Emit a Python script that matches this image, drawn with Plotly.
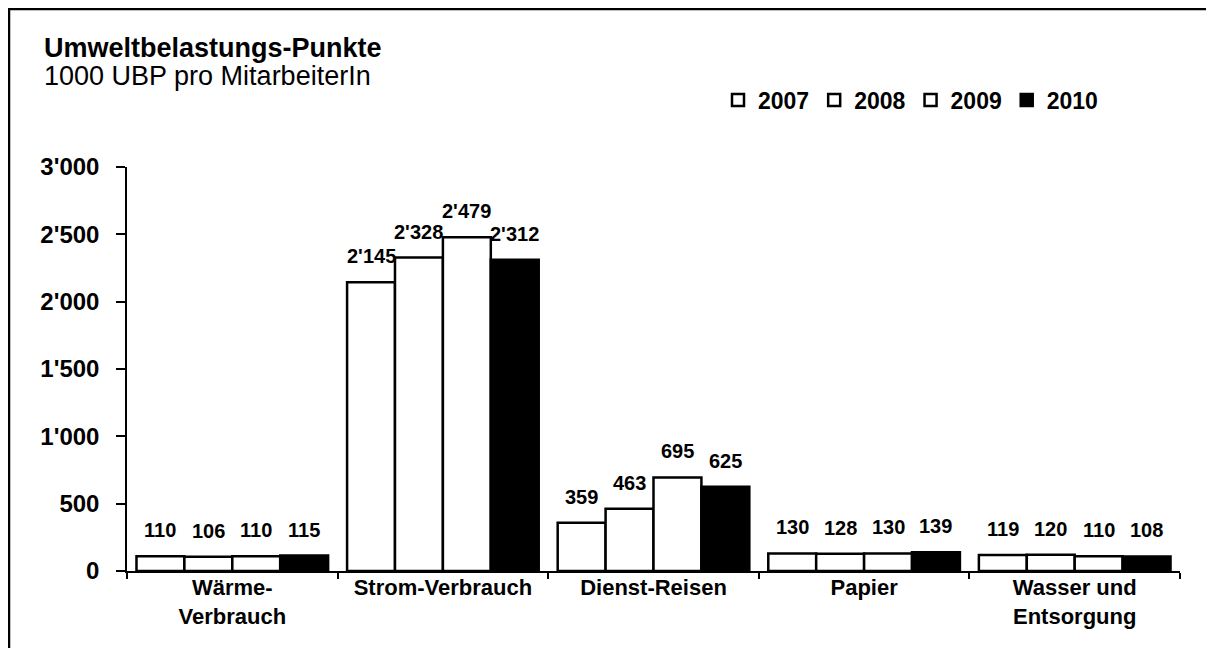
import plotly.graph_objects as go

categories = ["Wärme-<br>Verbrauch", "Strom-Verbrauch", "Dienst-Reisen", "Papier", "Wasser und<br>Entsorgung"]
years = ["2007", "2008", "2009", "2010"]
v2007 = [110, 2145, 359, 130, 119]
v2008 = [106, 2328, 463, 128, 120]
v2009 = [110, 2479, 695, 130, 110]
v2010 = [115, 2312, 625, 139, 108]
series = [v2007, v2008, v2009, v2010]
fills = ["white", "white", "white", "black"]

FONT = "Liberation Sans, Arial, sans-serif"

W, H = 1206, 640
L, R, T, B = 119, 34, 159, 77
pw, ph = W - L - R, H - T - B
BARGAP = 0.09
bar_px = pw / len(categories) * (1 - BARGAP) / len(series)


def px(x):
    return (x - L) / pw


def py(y):
    return (H - B - y) / ph


fig = go.Figure()
annotations = []
for j, (name, vals, fc) in enumerate(zip(years, series, fills)):
    fig.add_trace(go.Bar(
        name=name, x=categories, y=vals,
        marker=dict(color=fc, line=dict(color="black", width=2.5)),
    ))
    for cat, v in zip(categories, vals):
        annotations.append(dict(
            x=cat, y=v, xref="x", yref="y", text=f"{v:,}".replace(",", "'"),
            showarrow=False, xanchor="center", yanchor="middle",
            xshift=(j - (len(series) - 1) / 2) * bar_px, yshift=26,
            font=dict(family=FONT, size=20, color="black", weight="bold"),
        ))

annotations += [
    dict(text="Umweltbelastungs-Punkte", xref="paper", yref="paper",
         x=px(34), y=py(40), xanchor="left", yanchor="middle", showarrow=False,
         font=dict(family=FONT, size=27, color="black", weight="bold")),
    dict(text="1000 UBP pro MitarbeiterIn", xref="paper", yref="paper",
         x=px(34), y=py(68), xanchor="left", yanchor="middle", showarrow=False,
         font=dict(family=FONT, size=27, color="black")),
]

fig.update_layout(
    width=W, height=H,
    margin=dict(l=L, r=R, t=T, b=B, autoexpand=False),
    paper_bgcolor="white", plot_bgcolor="white",
    separators=".'",
    barmode="group", bargap=BARGAP, bargroupgap=0,
    font=dict(family=FONT, color="black"),
    showlegend=True,
    legend=dict(orientation="h", x=px(710), y=py(92), xanchor="left", yanchor="middle",
                font=dict(family=FONT, size=23, color="black", weight="bold"),
                itemwidth=30, tracegroupgap=0, bgcolor="rgba(0,0,0,0)"),
    xaxis=dict(showline=True, linecolor="black", linewidth=1.5, ticks="outside",
               tickson="boundaries", ticklen=6, tickcolor="black", tickwidth=1.5,
               ticklabelstandoff=-4, automargin=False,
               tickfont=dict(family=FONT, size=22, color="black", weight="bold"),
               showgrid=False),
    yaxis=dict(range=[0, 3000], tickvals=[0, 500, 1000, 1500, 2000, 2500, 3000],
               tickformat=",d", showline=True, linecolor="black", linewidth=1.5,
               ticks="outside", ticklen=9, tickcolor="black", tickwidth=1.5,
               ticklabelstandoff=12, automargin=False,
               tickfont=dict(family=FONT, size=24, color="black", weight="bold"),
               showgrid=False, zeroline=False),
    annotations=annotations,
    shapes=[
        dict(type="rect", xref="paper", yref="paper", x0=px(1), x1=px(W - 1),
             y0=py(H + 5), y1=py(1), line=dict(color="black", width=2.5),
             fillcolor="rgba(0,0,0,0)"),
    ],
)

fig.write_html("out.html")
